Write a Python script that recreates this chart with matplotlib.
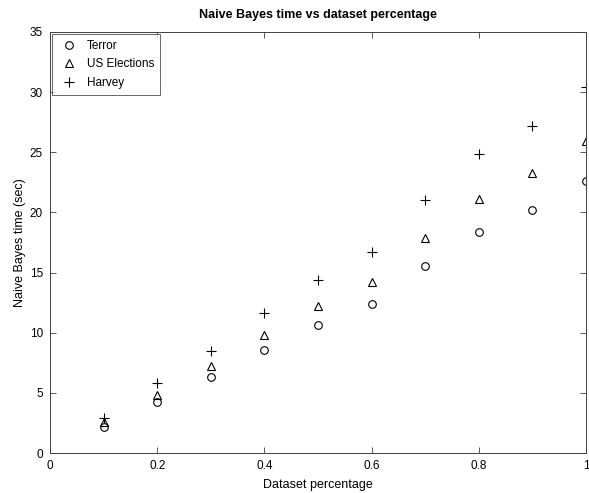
import matplotlib
matplotlib.use('Agg')
import matplotlib.pyplot as plt

plt.rcParams['font.family'] = ['Liberation Sans', 'DejaVu Sans']

# data
pct = [0.1, 0.2, 0.3, 0.4, 0.5, 0.6, 0.7, 0.8, 0.9, 1.0]
terror = [2.2, 4.25, 6.3, 8.55, 10.6, 12.4, 15.55, 18.4, 20.2, 22.6]
us_elections = [2.55, 4.8, 7.2, 9.8, 12.2, 14.25, 17.85, 21.15, 23.25, 25.9]
harvey = [2.95, 5.8, 8.45, 11.6, 14.35, 16.7, 21.0, 24.85, 27.2, 30.4]

xticks = [0, 0.2, 0.4, 0.6, 0.8, 1]
xticklabels = ['0', '0.2', '0.4', '0.6', '0.8', '1']
yticks = [0, 5, 10, 15, 20, 25, 30, 35]

axcol = '0.25'

fig = plt.figure(figsize=(5.89, 4.93), dpi=100)
ax = fig.add_axes([50 / 589, 40 / 493, 536 / 589, 421 / 493])

ax.plot(pct, terror, linestyle='none', marker='o', markersize=5.5,
        markerfacecolor='none', markeredgecolor='black', markeredgewidth=0.8, label='Terror')
ax.plot(pct, us_elections, linestyle='none', marker='^', markersize=5.5,
        markerfacecolor='none', markeredgecolor='black', markeredgewidth=0.8, label='US Elections')
ax.plot(pct, harvey, linestyle='none', marker='+', markersize=6.5,
        markeredgecolor='black', markeredgewidth=0.8, label='Harvey')

ax.set_xlim(0, 1)
ax.set_ylim(0, 35)
ax.set_xticks(xticks)
ax.set_xticklabels(xticklabels)
ax.set_yticks(yticks)
ax.tick_params(direction='in', top=True, right=True, labelsize=8.5, length=4, width=0.6,
               color=axcol, pad=5)
for s in ax.spines.values():
    s.set_linewidth(0.7)
    s.set_color(axcol)

ax.set_xlabel('Dataset percentage', fontsize=9, labelpad=5)
ax.set_ylabel('Naive Bayes time (sec)', fontsize=9, labelpad=3)
ax.set_title('Naive Bayes time vs dataset percentage', fontsize=9, fontweight='bold', pad=10)

leg = ax.legend(loc='upper left', fontsize=8.5, fancybox=False, edgecolor=axcol,
                borderaxespad=0.15, handletextpad=0.5, labelspacing=0.55, borderpad=0.5,
                handlelength=2.0)
leg.get_frame().set_linewidth(0.7)

fig.savefig('out.png', dpi=100)
